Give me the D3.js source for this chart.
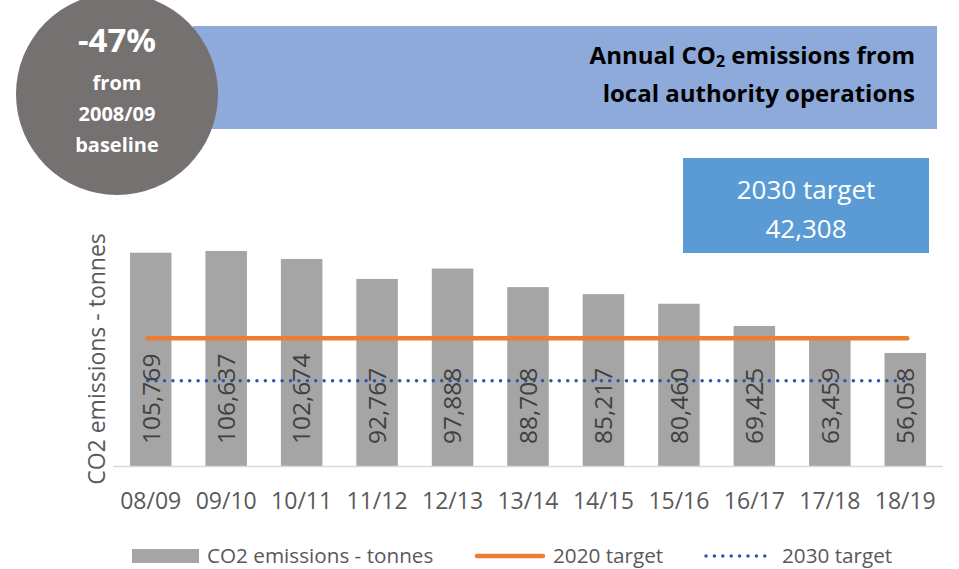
<!DOCTYPE html>
<html>
<head>
<meta charset="utf-8">
<script src="https://cdn.jsdelivr.net/npm/d3@7"></script>
<style>
  body { margin: 0; background: #fff; }
  svg { display: block; font-family: "Open Sans", sans-serif; }
</style>
</head>
<body>
<svg width="959" height="569"></svg>
<script>
// data
const years = ["08/09", "09/10", "10/11", "11/12", "12/13", "13/14", "14/15", "15/16", "16/17", "17/18", "18/19"];
const emissions = [105769, 106637, 102674, 92767, 97888, 88708, 85217, 80460, 69425, 63459, 56058];
const target2020 = 63400;
const target2030 = 42308;
const reduction = "-47%";

const svg = d3.select("svg");

// plot area
const x = d3.scaleBand().domain(years).range([113, 943]).paddingInner(0.45).paddingOuter(0.225);
const y = d3.scaleLinear().domain([0, 120000]).range([466, 466 - 242]);

// header banner
svg.append("rect")
    .attr("x", 193).attr("y", 26).attr("width", 744).attr("height", 103)
    .style("fill", "#8eaadb");

const title = svg.append("text")
    .attr("text-anchor", "end")
    .style("font-size", "24px")
    .style("font-weight", "bold")
    .style("fill", "#000");
const t1 = title.append("tspan").attr("x", 915).attr("y", 64);
t1.append("tspan").text("Annual CO");
t1.append("tspan").text("2").style("font-size", "16px").attr("dy", 3);
t1.append("tspan").text(" emissions from").attr("dy", -3);
title.append("tspan").attr("x", 915).attr("y", 102).text("local authority operations");

// circle badge
svg.append("circle")
    .attr("cx", 117).attr("cy", 94).attr("r", 101)
    .style("fill", "#767171");
const badge = svg.append("text")
    .attr("text-anchor", "middle")
    .style("fill", "#fff")
    .style("font-weight", "bold");
badge.append("tspan").attr("x", 117).attr("y", 52).style("font-size", "33px").text(reduction);
badge.append("tspan").attr("x", 117).attr("y", 90).style("font-size", "20px").text("from");
badge.append("tspan").attr("x", 117).attr("y", 121).style("font-size", "20px").text("2008/09");
badge.append("tspan").attr("x", 117).attr("y", 152).style("font-size", "20px").text("baseline");

// 2030 target box
svg.append("rect")
    .attr("x", 683).attr("y", 158).attr("width", 246).attr("height", 95)
    .style("fill", "#5b9bd5");
const box = svg.append("text")
    .attr("text-anchor", "middle")
    .style("fill", "#fff")
    .style("font-size", "26px");
box.append("tspan").attr("x", 806).attr("y", 199).text("2030 target");
box.append("tspan").attr("x", 806).attr("y", 238).text(d3.format(",")(target2030));

// bars
svg.selectAll(".bar")
    .data(emissions)
    .enter().append("rect")
    .attr("class", "bar")
    .attr("x", (d, i) => x(years[i]))
    .attr("y", d => y(d))
    .attr("width", x.bandwidth())
    .attr("height", d => y(0) - y(d))
    .style("fill", "#a5a5a5");

// x axis line
svg.append("line")
    .attr("x1", 113).attr("x2", 943).attr("y1", y(0) + 0.5).attr("y2", y(0) + 0.5)
    .style("stroke", "#d9d9d9").style("stroke-width", "1.5px");

// target lines, from first to last category centre
const xc = d => x(d) + x.bandwidth() / 2;
svg.append("line")
    .attr("x1", xc(years[0]) - 3).attr("x2", xc(years[years.length - 1]) + 2)
    .attr("y1", y(target2020)).attr("y2", y(target2020))
    .style("stroke", "#ed7d31").style("stroke-width", "4.5px").style("stroke-linecap", "round");

svg.append("line")
    .attr("x1", xc(years[0]) - 3).attr("x2", xc(years[years.length - 1]) + 2)
    .attr("y1", y(target2030)).attr("y2", y(target2030))
    .style("stroke", "#2f55a4").style("stroke-width", "3.5px")
    .style("stroke-linecap", "round").style("stroke-dasharray", "0 8.4");

// data labels (rotated)
svg.selectAll(".lbl")
    .data(emissions)
    .enter().append("text")
    .attr("class", "lbl")
    .attr("transform", (d, i) => `translate(${xc(years[i])},${y(0) - 22}) rotate(-90)`)
    .attr("dy", "0.36em")
    .style("font-size", "24.5px")
    .style("fill", "#404040")
    .text(d => d3.format(",")(d));

// x tick labels
svg.selectAll(".tick")
    .data(years)
    .enter().append("text")
    .attr("class", "tick")
    .attr("x", d => xc(d))
    .attr("y", 509)
    .attr("text-anchor", "middle")
    .style("font-size", "23px")
    .style("fill", "#595959")
    .text(d => d);

// y axis title
svg.append("text")
    .attr("transform", "translate(105,359) rotate(-90)")
    .attr("text-anchor", "middle")
    .style("font-size", "23px")
    .style("fill", "#595959")
    .text("CO2 emissions - tonnes");

// legend
const leg = svg.append("g").style("font-size", "20.7px").style("fill", "#595959");
leg.append("rect").attr("x", 132).attr("y", 549).attr("width", 67).attr("height", 14).style("fill", "#a5a5a5");
leg.append("text").attr("x", 207).attr("y", 563).text("CO2 emissions - tonnes");
leg.append("line").attr("x1", 477).attr("x2", 543).attr("y1", 556).attr("y2", 556)
    .style("stroke", "#ed7d31").style("stroke-width", "4.5px").style("stroke-linecap", "round");
leg.append("text").attr("x", 553).attr("y", 563).text("2020 target");
leg.append("line").attr("x1", 706).attr("x2", 773).attr("y1", 556).attr("y2", 556)
    .style("stroke", "#2f55a4").style("stroke-width", "3.5px")
    .style("stroke-linecap", "round").style("stroke-dasharray", "0 8.4");
leg.append("text").attr("x", 782).attr("y", 563).text("2030 target");
</script>
</body>
</html>
